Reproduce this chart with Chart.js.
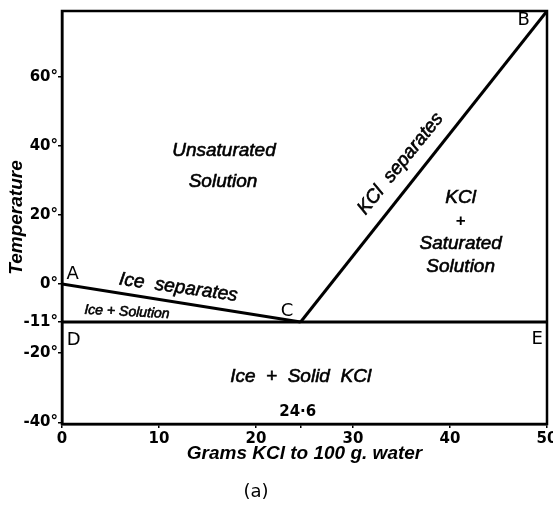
<!DOCTYPE html>
<html>
<head>
<meta charset="utf-8">
<script src="https://cdn.jsdelivr.net/npm/chart.js@4.4.1/dist/chart.umd.min.js"></script>
<style>
  html, body { margin: 0; padding: 0; background: #fff; }
  #wrap { width: 553px; height: 513px; }
</style>
</head>
<body>
<div id="wrap"><canvas id="myChart" width="553" height="513"></canvas></div>
<script>
// phase diagram KCl - water
const iceLineX = [0, 24.6];      // A -> C
const iceLineT = [0, -11];
const kclLineX = [24.6, 50];     // C -> B
const kclLineT = [-11, 79];
const eutecticX = [0, 50];       // D -> E
const eutecticT = [-11, -11];

const xTicks = [0, 10, 20, 24.6, 30, 40, 50];
const yTicks = [-40, -20, -11, 0, 20, 40, 60];

const toPoints = (xs, ys) => xs.map((x, i) => ({ x: x, y: ys[i] }));

const ITAL = "italic 19px 'Liberation Sans'";
const LETTER = "18px 'DejaVu Sans'";

// text placed in data coordinates
const notes = [
    { text: "Unsaturated", x: 16.7, y: 38.6, font: ITAL, stroke: true },
    { text: "Solution", x: 16.6, y: 29.7, font: ITAL, stroke: true },
    { text: "KCl  separates", x: 34.9, y: 34.8, rot: -51, font: ITAL, stroke: true },
    { text: "KCl", x: 41.1, y: 25.0, font: ITAL, stroke: true },
    { text: "+", x: 41.1, y: 18.1, font: "bold 17px 'Liberation Sans'" },
    { text: "Saturated", x: 41.1, y: 11.7, font: ITAL, stroke: true },
    { text: "Solution", x: 41.1, y: 5.1, font: ITAL, stroke: true },
    { text: "Ice  separates", x: 12.0, y: -1.0, rot: 8, font: ITAL, stroke: true },
    { text: "Ice + Solution", x: 6.7, y: -8.1, rot: 3, font: "italic 14px 'Liberation Sans'", stroke: true },
    { text: "Ice  +  Solid  KCl", x: 24.6, y: -26.7, font: ITAL, stroke: true },
    { text: "24·6", x: 24.3, y: -37.1, font: "bold 15px 'DejaVu Sans'" },
    { text: "A", x: 1.1, y: 2.9, font: LETTER },
    { text: "B", x: 47.6, y: 76.4, font: LETTER },
    { text: "C", x: 23.2, y: -7.8, font: LETTER },
    { text: "D", x: 1.2, y: -16.4, font: LETTER },
    { text: "E", x: 49.0, y: -15.9, font: LETTER }
];

const diagramText = {
    id: "diagramText",
    afterDatasetsDraw(chart) {
        const { ctx, chartArea, scales } = chart;
        ctx.save();
        // frame round the plot
        ctx.strokeStyle = "#000";
        ctx.lineWidth = 2.5;
        ctx.strokeRect(chartArea.left, chartArea.top, chartArea.right - chartArea.left, chartArea.bottom - chartArea.top);
        ctx.fillStyle = "#000";
        ctx.textAlign = "center";
        ctx.textBaseline = "middle";
        ctx.lineWidth = 0.6;
        notes.forEach((n) => {
            const px = scales.x.getPixelForValue(n.x);
            const py = scales.y.getPixelForValue(n.y);
            ctx.save();
            ctx.translate(px, py);
            if (n.rot) ctx.rotate((n.rot * Math.PI) / 180);
            ctx.font = n.font;
            ctx.fillText(n.text, 0, 0);
            if (n.stroke) ctx.strokeText(n.text, 0, 0);
            ctx.restore();
        });
        // caption under the chart
        ctx.font = "18px 'DejaVu Sans'";
        ctx.fillText("(a)", 256, 492);
        ctx.restore();
    }
};

const lineStyle = {
    borderColor: "#000",
    borderWidth: 3,
    pointRadius: 0,
    showLine: true,
    fill: false
};

const ctx = document.getElementById("myChart").getContext("2d");
const myChart = new Chart(ctx, {
    type: "scatter",
    data: {
        datasets: [
            Object.assign({ label: "Ice separates", data: toPoints(iceLineX, iceLineT) }, lineStyle),
            Object.assign({ label: "KCl separates", data: toPoints(kclLineX, kclLineT) }, lineStyle),
            Object.assign({ label: "-11°", data: toPoints(eutecticX, eutecticT) }, lineStyle)
        ]
    },
    options: {
        responsive: false,
        animation: false,
        layout: { padding: { top: 11, right: 6, left: 0, bottom: 0 } },
        plugins: {
            legend: { display: false },
            tooltip: { enabled: false }
        },
        scales: {
            x: {
                type: "linear",
                min: 0,
                max: 50,
                afterBuildTicks: (s) => { s.ticks = xTicks.map((v) => ({ value: v })); },
                afterFit: (s) => { s.height = 89; s.paddingLeft = 0; s.paddingRight = 0; },
                ticks: {
                    color: "#000",
                    padding: 2,
                    maxRotation: 0,
                    font: { family: "DejaVu Sans", size: 15, weight: "bold" },
                    callback: (v) => (v === 24.6 ? "" : v)
                },
                grid: { drawOnChartArea: false, tickLength: 4, color: "#000", lineWidth: 1.5 },
                border: { color: "#000", width: 2.5 },
                title: {
                    display: true,
                    text: "Grams KCl to 100 g. water",
                    color: "#000",
                    font: { family: "Liberation Sans", size: 19, style: "italic", weight: "bold" },
                    padding: { top: 0, bottom: 48 }
                }
            },
            y: {
                type: "linear",
                min: -40.5,
                max: 79,
                afterBuildTicks: (s) => { s.ticks = yTicks.map((v) => ({ value: v })); },
                afterFit: (s) => { s.width = 62; s.paddingTop = 0; s.paddingBottom = 0; },
                ticks: {
                    color: "#000",
                    padding: 0,
                    font: { family: "DejaVu Sans", size: 15, weight: "bold" },
                    callback: (v) => v + "°"
                },
                grid: { drawOnChartArea: false, tickLength: 4, color: "#000", lineWidth: 1.5 },
                border: { color: "#000", width: 2.5 },
                title: {
                    display: true,
                    text: "Temperature",
                    color: "#000",
                    font: { family: "Liberation Sans", size: 19, style: "italic", weight: "bold" },
                    padding: { top: 5, bottom: 0 }
                }
            }
        }
    },
    plugins: [diagramText]
});
</script>
</body>
</html>
